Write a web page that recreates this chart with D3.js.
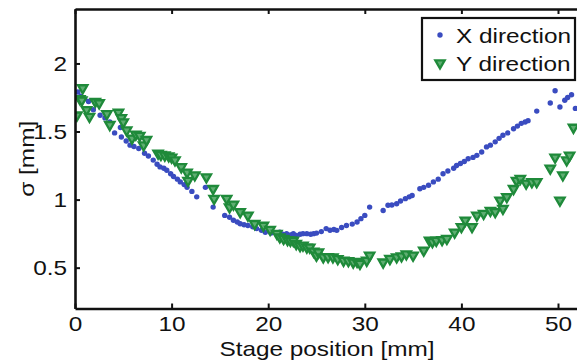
<!DOCTYPE html>
<html>
<head>
<meta charset="utf-8">
<script src="https://cdn.jsdelivr.net/npm/d3@7"></script>
<style>
  body { margin: 0; background: #fff; }
  svg text { font-family: "Liberation Sans", Arial, sans-serif; fill: #111; }
</style>
</head>
<body>
<div id="chart"></div>
<script>
// X direction (blue dots): stage position [mm], sigma [mm]
const xDirPos = [0.3, 0.6, 1.0, 1.4, 1.9, 2.6, 3.1, 3.6, 4.1, 4.7, 4.8, 5.3, 5.7, 6.1, 6.6, 7.2, 7.6, 8.1, 8.5, 8.8,
  9.2, 9.5, 9.9, 10.2, 10.6, 10.9, 11.3, 11.6, 12.1, 12.6, 13.5, 14.3, 15.5, 16.0, 16.4, 16.8, 17.1, 17.5, 17.9, 18.4,
  18.8, 19.3, 19.7, 20.3, 20.9, 21.2, 21.5, 21.9, 22.3, 22.6, 22.9, 23.3, 23.6, 24.0, 24.4, 24.7, 25.0, 25.5, 26.0, 26.4,
  26.8, 27.1, 27.6, 28.1, 28.7, 29.2, 29.6, 30.0, 30.5, 31.9, 32.4, 32.8, 33.3, 33.7, 34.2, 34.6, 34.9, 35.7, 36.1, 36.6,
  37.1, 37.6, 38.1, 38.6, 39.2, 39.5, 39.9, 40.3, 40.7, 41.2, 41.6, 42.1, 42.6, 43.0, 43.5, 43.9, 44.3, 44.8, 45.4, 45.8,
  46.2, 46.6, 46.9, 47.8, 49.2, 49.7, 50.2, 50.7, 51.0, 51.4, 51.8];
const xDirSigma = [1.79, 1.76, 1.74, 1.72, 1.66, 1.62, 1.60, 1.57, 1.49, 1.53, 1.46, 1.43, 1.40, 1.39, 1.375, 1.34, 1.32, 1.29, 1.26, 1.24,
  1.23, 1.215, 1.19, 1.17, 1.15, 1.13, 1.11, 1.09, 1.06, 1.02, 1.09, 0.945, 0.884, 0.87, 0.848, 0.835, 0.823, 0.815, 0.81, 0.80,
  0.787, 0.775, 0.76, 0.755, 0.75, 0.76, 0.745, 0.75, 0.74, 0.75, 0.737, 0.745, 0.75, 0.75, 0.745, 0.75, 0.754, 0.765, 0.787, 0.775,
  0.78, 0.774, 0.795, 0.81, 0.82, 0.835, 0.86, 0.884, 0.945, 0.92, 0.958, 0.96, 0.97, 0.99, 1.007, 1.02, 1.03, 1.08, 1.09, 1.105,
  1.13, 1.15, 1.19, 1.21, 1.23, 1.25, 1.265, 1.28, 1.30, 1.31, 1.325, 1.35, 1.387, 1.40, 1.424, 1.45, 1.473, 1.49, 1.52, 1.54,
  1.56, 1.57, 1.58, 1.65, 1.71, 1.80, 1.68, 1.73, 1.75, 1.77, 1.67];

// Y direction (green triangles)
const yDirPos = [0.2, 0.5, 0.7, 0.8, 1.2, 1.5, 2.1, 2.5, 3.3, 3.6, 4.5, 4.8, 5.0, 5.35, 5.9, 6.3, 6.7, 7.1, 7.4, 8.6,
  8.9, 9.3, 9.7, 10.0, 10.35, 11.0, 11.6, 11.7, 12.4, 13.6, 14.3, 14.4, 15.7, 16.0, 16.4, 17.1, 17.9, 18.6, 19.5, 20.2,
  20.9, 21.2, 21.6, 22.0, 22.3, 22.6, 22.9, 23.3, 23.6, 24.0, 24.3, 24.7, 25.0, 25.2, 25.7, 26.2, 26.7, 27.2, 27.8, 28.3,
  28.8, 29.2, 29.5, 30.2, 30.5, 31.9, 32.6, 33.3, 33.8, 34.3, 35.0, 36.1, 36.7, 37.0, 37.4, 38.0, 38.5, 39.3, 40.0, 40.4,
  41.1, 41.6, 42.3, 43.0, 43.5, 44.0, 44.3, 44.7, 45.4, 45.7, 46.1, 46.7, 47.3, 47.8, 49.2, 49.7, 50.2, 50.5, 50.9, 51.2, 51.6];
const yDirSigma = [1.62, 1.74, 1.73, 1.82, 1.66, 1.61, 1.72, 1.71, 1.63, 1.55, 1.64, 1.60, 1.57, 1.51, 1.45, 1.48, 1.47, 1.40, 1.44, 1.34,
  1.33, 1.326, 1.32, 1.31, 1.29, 1.24, 1.20, 1.14, 1.18, 1.166, 1.08, 1.007, 1.007, 0.945, 0.965, 0.91, 0.884, 0.823, 0.81, 0.78,
  0.75, 0.725, 0.713, 0.705, 0.70, 0.70, 0.676, 0.66, 0.664, 0.65, 0.65, 0.62, 0.59, 0.614, 0.578, 0.58, 0.578, 0.565, 0.553, 0.55,
  0.54, 0.545, 0.53, 0.553, 0.59, 0.54, 0.566, 0.578, 0.585, 0.60, 0.59, 0.627, 0.70, 0.69, 0.70, 0.705, 0.713, 0.76, 0.80, 0.848,
  0.80, 0.884, 0.897, 0.92, 0.91, 0.995, 0.934, 1.02, 1.08, 1.14, 1.154, 1.12, 1.13, 1.13, 1.23, 1.31, 0.995, 1.18, 1.29, 1.325, 1.53];

const xTicks = [0, 10, 20, 30, 40, 50];
const yTicks = [0.5, 1, 1.5, 2];
const seriesNames = ["X direction", "Y direction"];

const width = 577, height = 363;
const margin = { left: 75, top: 9, bottom: 55 };
const blue = "#3a4cc0", green = "#1f8a3a";
const fontSize = 21;
const stretchK = 1.16; // the original lettering is a bit wider than Arial

const svg = d3.select("#chart").append("svg")
  .attr("width", width).attr("height", height);

// widen text horizontally around its anchor point
function stretch(sel) {
  sel.each(function () {
    const t = d3.select(this);
    const x = +(t.attr("x") || 0);
    const tr = t.attr("transform") || "";
    t.attr("x", x / stretchK).attr("transform", `${tr} scale(${stretchK},1)`);
  });
}

// right edge of the original figure is cropped, so the x range runs past the canvas
const xScale = d3.scaleLinear().domain([0, 55]).range([margin.left, margin.left + 55 * 9.66]);
const yScale = d3.scaleLinear().domain([0.2, 2.4]).range([height - margin.bottom + 0.5, margin.top]);

const x0 = xScale(0), x1 = xScale(55), yB = yScale(0.2), yT = yScale(2.4);

svg.append("clipPath").attr("id", "plotclip")
  .append("rect").attr("x", x0).attr("y", yT).attr("width", x1 - x0).attr("height", yB - yT);

const plot = svg.append("g").attr("clip-path", "url(#plotclip)");

// points
plot.append("g").selectAll("circle")
  .data(xDirPos.map((p, i) => [p, xDirSigma[i]]))
  .join("circle")
  .attr("cx", d => xScale(d[0]))
  .attr("cy", d => yScale(d[1]))
  .attr("r", 2.7)
  .attr("fill", blue);

const tri = d3.symbol().type(d3.symbolTriangle).size(38);
const triFill = "#5fae72";
plot.append("g").selectAll("path")
  .data(yDirPos.map((p, i) => [p, yDirSigma[i]]))
  .join("path")
  .attr("d", tri)
  .attr("transform", d => `translate(${xScale(d[0])},${yScale(d[1])}) rotate(180)`)
  .attr("fill", triFill)
  .attr("stroke", green)
  .attr("stroke-width", 2.3);

// axes: inward ticks, mirrored on top
const tickLen = 5;
const axisG = svg.append("g");
axisG.append("g").attr("transform", `translate(0,${yB})`)
  .call(d3.axisBottom(xScale).tickValues(xTicks).tickSizeInner(-tickLen).tickSizeOuter(0).tickPadding(8).tickFormat(d3.format("d")));
axisG.append("g").attr("transform", `translate(0,${yT})`)
  .call(d3.axisTop(xScale).tickValues(xTicks).tickSizeInner(-tickLen).tickSizeOuter(0).tickFormat(""));
axisG.append("g").attr("transform", `translate(${x0},0)`)
  .call(d3.axisLeft(yScale).tickValues(yTicks).tickSizeInner(-tickLen).tickSizeOuter(0).tickPadding(8).tickFormat(d => String(d)));

axisG.selectAll(".domain").attr("stroke", "#111").attr("stroke-width", 2.6);
axisG.selectAll(".tick line").attr("stroke", "#111").attr("stroke-width", 2);
axisG.selectAll(".tick text").attr("font-size", fontSize).attr("fill", "#111")
  .attr("font-family", "'Liberation Sans', Arial, sans-serif")
  .call(stretch);

// axis labels
svg.append("text")
  .attr("x", 327).attr("y", 356)
  .attr("text-anchor", "middle")
  .attr("font-size", fontSize)
  .text("Stage position [mm]")
  .call(stretch);

svg.append("text")
  .attr("transform", `translate(34,${yScale(1.3)}) rotate(-90)`)
  .attr("text-anchor", "middle")
  .attr("font-size", fontSize)
  .text("σ [mm]")
  .call(stretch);

// legend
const legend = svg.append("g");
legend.append("rect")
  .attr("x", 422).attr("y", 18).attr("width", 153).attr("height", 62)
  .attr("fill", "#fff").attr("stroke", "#111").attr("stroke-width", 2.2);

seriesNames.forEach((name, i) => {
  const ly = 35 + i * 28;
  if (i === 0) {
    legend.append("circle").attr("cx", 440).attr("cy", ly).attr("r", 2.7).attr("fill", blue);
  } else {
    legend.append("path").attr("d", tri)
      .attr("transform", `translate(440,${ly}) rotate(180)`)
      .attr("fill", triFill).attr("stroke", green).attr("stroke-width", 2.3);
  }
  legend.append("text")
    .attr("x", 456).attr("y", ly + 8)
    .attr("font-size", fontSize)
    .text(name)
    .call(stretch);
});
</script>
</body>
</html>
